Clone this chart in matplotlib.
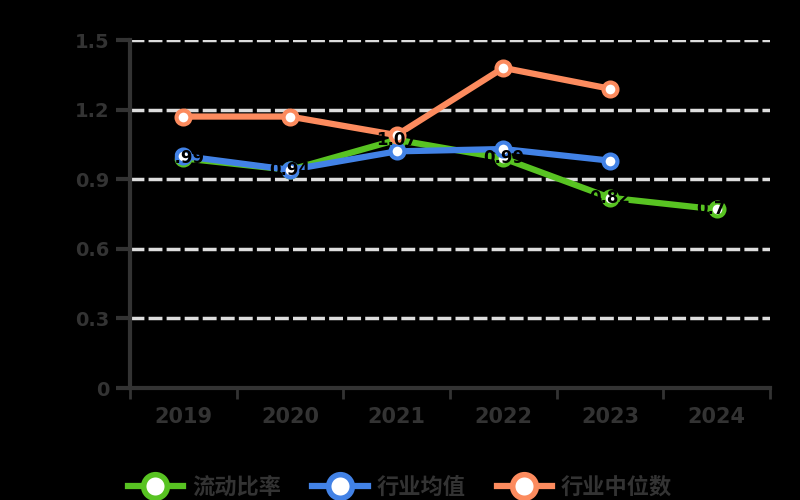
import matplotlib
matplotlib.use('Agg')
import matplotlib.pyplot as plt
import numpy as np

plt.rcParams['font.family'] = ['Noto Sans CJK SC', 'DejaVu Sans']

# 数据
years = ['2019', '2020', '2021', '2022', '2023', '2024']
current_ratio = [0.99, 0.94, 1.07, 0.99, 0.82, 0.77]
industry_mean = [1.00, 0.94, 1.02, 1.03, 0.98]
industry_median = [1.17, 1.17, 1.09, 1.38, 1.29]
y_ticks = [0, 0.3, 0.6, 0.9, 1.2, 1.5]

names = ['流动比率', '行业均值', '行业中位数']
colors = ['#58c322', '#4282e6', '#fc8b5e']
axis_color = '#333333'

fig = plt.figure(figsize=(8, 5), dpi=100, facecolor='black')
ax = fig.add_axes([0.1625, 0.224, 0.8, 0.696])
ax.set_facecolor('black')

x = np.arange(len(years))
series = [current_ratio, industry_mean, industry_median]
for vals, name, c in zip(series, names, colors):
    ax.plot(x[:len(vals)], vals, color=c, lw=4.5, marker='o', ms=10,
            markerfacecolor='white', markeredgecolor=c, markeredgewidth=3,
            label=name, solid_joinstyle='round', zorder=3)

# 数据标签（黑色）
for xi, v in zip(x, current_ratio):
    ax.text(xi, v, '%.2f' % v, ha='center', va='center', fontsize=12,
            fontweight='bold', color='black', family='DejaVu Sans', zorder=5)

ax.set_xlim(-0.5, len(years) - 0.5)
ax.set_ylim(0, 1.5)
ax.set_yticks(y_ticks)
ax.set_yticklabels(['0', '0.3', '0.6', '0.9', '1.2', '1.5'])
ax.set_xticks(x)
ax.set_xticklabels(years)
ax.set_xticks(np.arange(len(years) + 1) - 0.5, minor=True)

for yv in y_ticks[1:]:
    ax.axhline(yv, color='#dddddd', lw=2.5, ls=(0, (4, 1.2)), zorder=1)

for s in ['top', 'right']:
    ax.spines[s].set_visible(False)
for s in ['left', 'bottom']:
    ax.spines[s].set_color(axis_color)
    ax.spines[s].set_linewidth(3)

ax.tick_params(axis='x', which='major', length=0, pad=14, labelsize=15,
               labelcolor=axis_color)
ax.tick_params(axis='x', which='minor', length=8, width=2, color=axis_color)
ax.tick_params(axis='y', length=10, width=3, color=axis_color, pad=5,
               labelsize=14, labelcolor=axis_color)
for lab in ax.get_xticklabels() + ax.get_yticklabels():
    lab.set_fontweight('bold')
    lab.set_family('DejaVu Sans')

leg = fig.legend(*ax.get_legend_handles_labels(), loc='center',
                 bbox_to_anchor=(0.5, 0.026), ncol=3, frameon=False,
                 fontsize=16, handlelength=2.5, handletextpad=0.4,
                 columnspacing=1.4)
for h in leg.legend_handles:
    h.set_markersize(17)
    h.set_markeredgewidth(4)
for t in leg.get_texts():
    t.set_color(axis_color)
    t.set_fontweight('bold')

fig.savefig('out.png', dpi=100, facecolor='black')
